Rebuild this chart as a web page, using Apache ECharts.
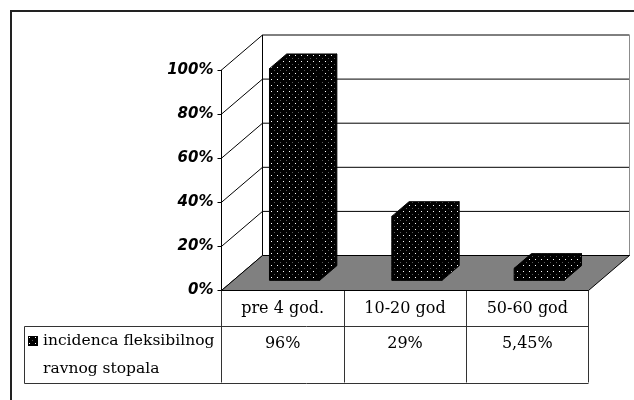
<!DOCTYPE html>
<html>
<head>
<meta charset="utf-8">
<script src="https://cdn.jsdelivr.net/npm/echarts@6/dist/echarts.min.js"></script>
<style>
  html, body { margin: 0; padding: 0; background: #fff; }
  #chart { width: 634px; height: 400px; }
</style>
</head>
<body>
<div id="chart"></div>
<script>
// Age groups, incidence (%) and value-axis ticks
const categories = ['pre 4 god.', '10-20 god', '50-60 god'];
const incidence = [96, 29, 5.45];
const yTicks = [0, 20, 40, 60, 80, 100];
const seriesName = 'incidenca fleksibilnog ravnog stopala';

// 3D depth of the plot box (pixels), bar depth band inside it, table row heights
const DEPTH = [41, -35];
const BAR_FRONT = 0.29, BAR_BACK = 0.71, BAR_WIDTH = 0.41;
const HEAD_ROW = 35, DATA_ROW = 57, TABLE_LEFT = 24;

const SERIF = 'DejaVu Serif';
const SANS = 'DejaVu Sans';

// comma as decimal separator
function pct(v) { return String(v).replace('.', ',') + '%'; }

// black fill with a fine dot grid
function dotPattern() {
  const c = document.createElement('canvas');
  c.width = 6; c.height = 6;
  const g = c.getContext('2d');
  g.fillStyle = '#000'; g.fillRect(0, 0, 6, 6);
  g.fillStyle = '#ffffff'; g.fillRect(1, 1, 1, 1);
  g.fillStyle = '#5a5a5a'; g.fillRect(4, 4, 1, 1);
  return { image: c, repeat: 'repeat' };
}
const pattern = dotPattern();

// back wall, side wall, floor and the data-table rules
function renderFrame(params, api) {
  const n = categories.length;
  const bw = api.size([1, 0])[0];
  const x0 = api.coord([0, 0])[0] - bw / 2;
  const x1 = api.coord([n - 1, 0])[0] + bw / 2;
  const y = v => api.coord([0, v])[1];
  const [dx, dy] = DEPTH;
  const y0 = y(0), yTop = y(yTicks[yTicks.length - 1]);
  const line = (a, b, c, d, color) => ({
    type: 'line', shape: { x1: a, y1: b, x2: c, y2: d },
    style: { stroke: color || '#000', lineWidth: 1 }
  });
  const ch = [];
  ch.push({
    type: 'polygon',
    shape: { points: [[x0 + dx, y0 + dy], [x1 + dx, y0 + dy], [x1 + dx, yTop + dy], [x0 + dx, yTop + dy]] },
    style: { fill: '#fff', stroke: '#000', lineWidth: 1 }
  });
  yTicks.slice(1, -1).forEach(t => ch.push(line(x0 + dx, y(t) + dy, x1 + dx, y(t) + dy)));
  ch.push(line(x1 + dx, yTop + dy, x1 + dx, y0 + dy, '#8c8c8c'));
  yTicks.forEach(t => ch.push(line(x0, y(t), x0 + dx, y(t) + dy)));
  ch.push({
    type: 'polygon',
    shape: { points: [[x0, y0], [x0 + dx, y0 + dy], [x1 + dx, y0 + dy], [x1, y0]] },
    style: { fill: '#808080', stroke: '#000', lineWidth: 1 }
  });
  const r1 = Math.round(y0 + HEAD_ROW) + 0.5, r2 = Math.round(y0 + HEAD_ROW + DATA_ROW) + 0.5;
  ch.push(line(TABLE_LEFT + 0.5, r1, x1, r1, '#333'));
  ch.push(line(TABLE_LEFT + 0.5, r2, x1, r2, '#333'));
  ch.push(line(TABLE_LEFT + 0.5, r1, TABLE_LEFT + 0.5, r2, '#333'));
  return { type: 'group', children: ch };
}

// 3D block for one category: front face, right side, top
function renderBar(params, api) {
  const i = api.value(0), v = api.value(1);
  const top = api.coord([i, v]);
  const base = api.coord([i, 0]);
  const bw = api.size([1, 0])[0] * BAR_WIDTH;
  const [dx, dy] = DEPTH;
  const fx = dx * BAR_FRONT, fy = dy * BAR_FRONT;
  const bx = dx * BAR_BACK, by = dy * BAR_BACK;
  const L = top[0] - bw / 2 + fx, R = top[0] + bw / 2 + fx;
  const T = top[1] + fy, B = base[1] + fy;
  const ddx = bx - fx, ddy = by - fy;
  const st = { fill: pattern, stroke: '#000', lineWidth: 1 };
  return {
    type: 'group',
    children: [
      { type: 'polygon', shape: { points: [[L, T], [R, T], [R, B], [L, B]] }, style: st },
      { type: 'polygon', shape: { points: [[R, T], [R + ddx, T + ddy], [R + ddx, B + ddy], [R, B]] }, style: st },
      { type: 'polygon', shape: { points: [[L, T], [L + ddx, T + ddy], [R + ddx, T + ddy], [R, T]] }, style: st }
    ]
  };
}

const chart = echarts.init(document.getElementById('chart'), null, { renderer: 'canvas' });
chart.setOption({
  backgroundColor: '#fff',
  animation: false,
  grid: { left: 221.5, right: 45.5, top: 70, bottom: 109.5, outerBoundsMode: 'none' },
  legend: {
    data: [seriesName],
    left: 28, top: 299, padding: 0,
    icon: 'rect', itemWidth: 10, itemHeight: 10,
    selectedMode: false,
    formatter: name => '\n' + name.replace(' ravnog', '\nravnog'),
    textStyle: { fontFamily: SERIF, fontSize: 15.5, lineHeight: 28, color: '#000' }
  },
  xAxis: {
    type: 'category',
    data: categories,
    boundaryGap: true,
    axisLine: { show: true, lineStyle: { color: '#000', width: 1 } },
    axisTick: { show: true, interval: 0, length: HEAD_ROW + DATA_ROW, lineStyle: { color: '#333', width: 1 } },
    axisLabel: {
      interval: 0, margin: 0,
      formatter: (value, idx) => '{h|' + value + '}\n{v|' + pct(incidence[idx]) + '}',
      rich: {
        h: { fontFamily: SERIF, fontSize: 16, lineHeight: 36, color: '#000' },
        v: { fontFamily: SERIF, fontSize: 16, lineHeight: 34, color: '#000' }
      }
    },
    splitLine: { show: false }
  },
  yAxis: {
    type: 'value',
    min: 0, max: 100, interval: 20,
    axisLine: { show: true, lineStyle: { color: '#000', width: 1 } },
    axisTick: { show: true, length: 4, lineStyle: { color: '#000' } },
    axisLabel: {
      margin: 8, formatter: '{value}%',
      fontFamily: SANS, fontSize: 15, fontWeight: 'bold', fontStyle: 'italic', color: '#000'
    },
    splitLine: { show: false }
  },
  graphic: [{
    type: 'rect', silent: true, z: 100,
    shape: { x: 11, y: 11, width: 700, height: 500 },
    style: { fill: null, stroke: '#222', lineWidth: 2 }
  }],
  series: [
    {
      name: 'frame', type: 'custom', z: 1, silent: true,
      data: [[0, 0]], renderItem: renderFrame
    },
    {
      name: seriesName, type: 'custom', z: 2,
      itemStyle: { color: pattern },
      data: incidence.map((v, i) => [i, v]),
      renderItem: renderBar
    }
  ]
});
</script>
</body>
</html>
